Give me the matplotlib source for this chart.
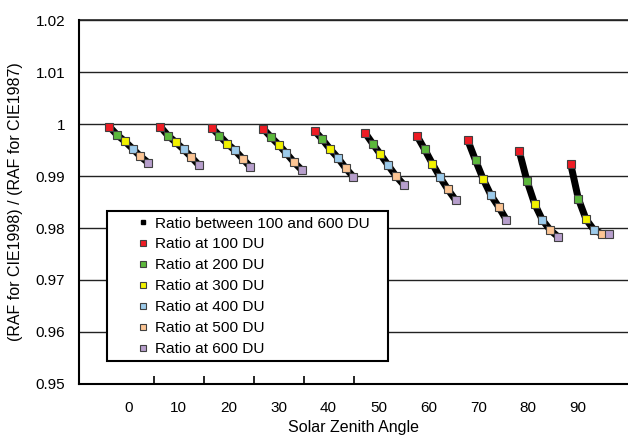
import numpy as np
import matplotlib.pyplot as plt
from matplotlib.lines import Line2D
from matplotlib.patches import Rectangle

plt.rcParams['font.family'] = ['Liberation Sans', 'DejaVu Sans']

# solar zenith angles (category labels) and ozone columns
sza = [0, 10, 20, 30, 40, 50, 60, 70, 80, 90]
du = [100, 200, 300, 400, 500, 600]

# x where the 100 DU point of each angle group sits, and spacing per 100 DU
x_start = [-3.9, 6.3, 16.6, 26.9, 37.2, 47.3, 57.7, 67.9, 78.2, 88.5]
x_step = 1.55

# ratio (RAF CIE1998 / RAF CIE1987), one list per DU
ratio_100 = [0.99948, 0.99948, 0.99929, 0.99910, 0.99871, 0.99833, 0.99775, 0.99687, 0.99481, 0.99237]
ratio_200 = [0.99788, 0.99775, 0.99775, 0.99750, 0.99706, 0.99621, 0.99513, 0.99302, 0.98910, 0.98563]
ratio_300 = [0.99667, 0.99648, 0.99621, 0.99602, 0.99519, 0.99417, 0.99237, 0.98937, 0.98462, 0.98167]
ratio_400 = [0.99525, 0.99513, 0.99494, 0.99437, 0.99352, 0.99206, 0.98975, 0.98629, 0.98154, 0.97967]
ratio_500 = [0.99379, 0.99365, 0.99333, 0.99263, 0.99154, 0.99000, 0.98744, 0.98404, 0.97962, 0.97890]
ratio_600 = [0.99256, 0.99206, 0.99173, 0.99115, 0.98987, 0.98833, 0.98538, 0.98154, 0.97833, 0.97890]

series = [ratio_100, ratio_200, ratio_300, ratio_400, ratio_500, ratio_600]
colors = ['#ee1c24', '#5cb83c', '#f2f200', '#9dcbeb', '#fcc594', '#b79fcc']

fig = plt.figure(figsize=(6.28, 4.37), dpi=100)
ax = fig.add_axes([0.1258, 0.1213, 0.8742, 0.8329])

for k in range(len(sza)):
    xs = [x_start[k] + i * x_step for i in range(len(du))]
    ys = [s[k] for s in series]
    ax.plot(xs, ys, color='black', lw=5, solid_capstyle='round',
            solid_joinstyle='round', zorder=3)
    for i in range(len(du)):
        ax.plot(xs[i], ys[i], 's', ms=5.2, mfc=colors[i], mec='#404040',
                mew=0.8, zorder=4)

ax.set_xlim(-10, 100)
ax.set_ylim(0.95, 1.02)
ax.set_yticks(np.arange(0.95, 1.0201, 0.01))
ax.set_yticklabels(['0.95', '0.96', '0.97', '0.98', '0.99', '1', '1.01', '1.02'])
ax.set_xticks(sza)
ax.set_xticks([5, 15, 25, 35, 45], minor=True)
ax.tick_params(axis='x', which='major', length=0, pad=12, labelsize=11)
ax.tick_params(axis='x', which='minor', direction='in', length=6, width=1.2)
ax.tick_params(axis='y', length=0, pad=10, labelsize=11)
ax.grid(axis='y', color='#222222', lw=1)
ax.set_axisbelow(True)
for side in ['top', 'right']:
    ax.spines[side].set_visible(False)
ax.spines['left'].set_linewidth(1.5)
ax.spines['bottom'].set_linewidth(1.5)
ax.axhline(1.02, color='#222222', lw=1.2, clip_on=False)

ax.set_xlabel('Solar Zenith Angle', fontsize=11.5, labelpad=4)
ax.set_ylabel('(RAF for CIE1998) / (RAF for CIE1987)', fontsize=11.5, labelpad=9)

# legend box drawn separately so the entries can sit further in
ax.add_patch(Rectangle((0.051, 0.063), 0.512, 0.413, transform=ax.transAxes,
                       facecolor='white', edgecolor='black', lw=1.5, zorder=5))

handles = [Line2D([], [], ls='none', marker='s', ms=3.5, color='black')]
labels = ['Ratio between 100 and 600 DU']
for i, d in enumerate(du):
    handles.append(Line2D([], [], ls='none', marker='s', ms=5, mfc=colors[i],
                          mec='#404040', mew=0.8))
    labels.append('Ratio at %d DU' % d)
leg = ax.legend(handles, labels, loc='upper left', bbox_to_anchor=(0.1027, 0.460),
                borderaxespad=0, frameon=False, fontsize=11.1, handlelength=1.0,
                handletextpad=0.3, labelspacing=0.45, borderpad=0)
leg.set_zorder(6)

plt.savefig('out.png', dpi=100)
